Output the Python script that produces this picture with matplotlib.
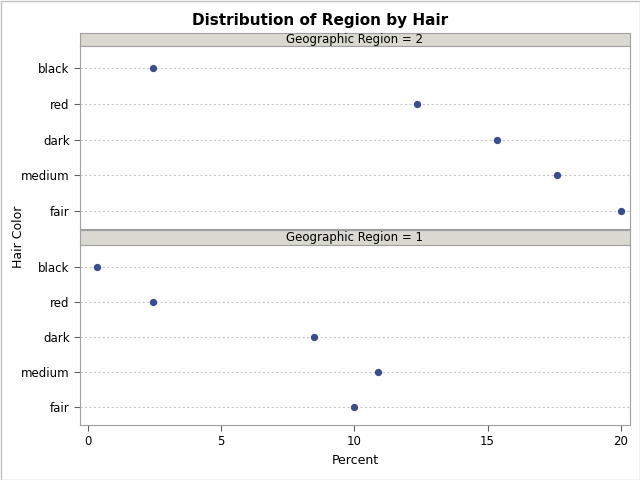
import matplotlib
matplotlib.use("Agg")
import matplotlib.pyplot as plt
from matplotlib.patches import Rectangle

categories = ["black", "red", "dark", "medium", "fair"]
region2 = [2.45, 12.35, 15.35, 17.6, 20.0]
region1 = [0.35, 2.45, 8.5, 10.9, 10.0]
xticks = [0, 5, 10, 15, 20]

W, H = 640, 480
fig = plt.figure(figsize=(6.4, 4.8), dpi=100)
fig.patches.append(Rectangle((0.5/W, 0.5/H), 1-1/W, 1-1/H, transform=fig.transFigure,
                             fill=False, edgecolor="#c0c0c0", lw=1))

def fx(x): return x / W
def fy(y): return 1 - y / H

L, R = 80, 630
panels = [(33, 46, 229, "Geographic Region = 2", region2),
          (230, 245, 425, "Geographic Region = 1", region1)]
axes = []
for htop, ptop, pbot, title, vals in panels:
    hax = fig.add_axes([fx(L), fy(ptop), fx(R - L), (ptop - htop) / H])
    hax.set_facecolor("#d9d9d1")
    hax.set_xticks([]); hax.set_yticks([])
    for s in hax.spines.values(): s.set_color("#a0a0a0")
    hax.text(0.5, 0.5, title, ha="center", va="center", fontsize=8.5, transform=hax.transAxes)

    ax = fig.add_axes([fx(L), fy(pbot), fx(R - L), (pbot - ptop) / H])
    y = list(range(len(categories)))
    for yi in y:
        ax.axhline(yi, color="#c8c8c8", lw=0.8, ls=(0, (2, 2)), zorder=0)
    ax.scatter(vals, y, s=18, color="#3b4d8c", zorder=3)
    ax.set_yticks(y)
    ax.set_yticklabels(categories, fontsize=8.5)
    ax.set_ylim(len(categories) - 0.5, -0.62)
    ax.set_xlim(-0.3, 20.35)
    ax.set_xticks(xticks)
    for s in ax.spines.values(): s.set_color("#a0a0a0")
    ax.tick_params(colors="#606060", labelcolor="black", length=4)
    axes.append(ax)

axes[0].tick_params(axis="x", labelbottom=False, length=0)
axes[1].set_xticklabels([str(t) for t in xticks], fontsize=8.5)
axes[1].set_xlabel("Percent", fontsize=9)
fig.text(fx(18), fy(237), "Hair Color", rotation=90, ha="center", va="center", fontsize=9)
fig.text(0.5, fy(20), "Distribution of Region by Hair", ha="center", va="center",
         fontsize=11, fontweight="bold")
fig.savefig("out.png", dpi=100)
